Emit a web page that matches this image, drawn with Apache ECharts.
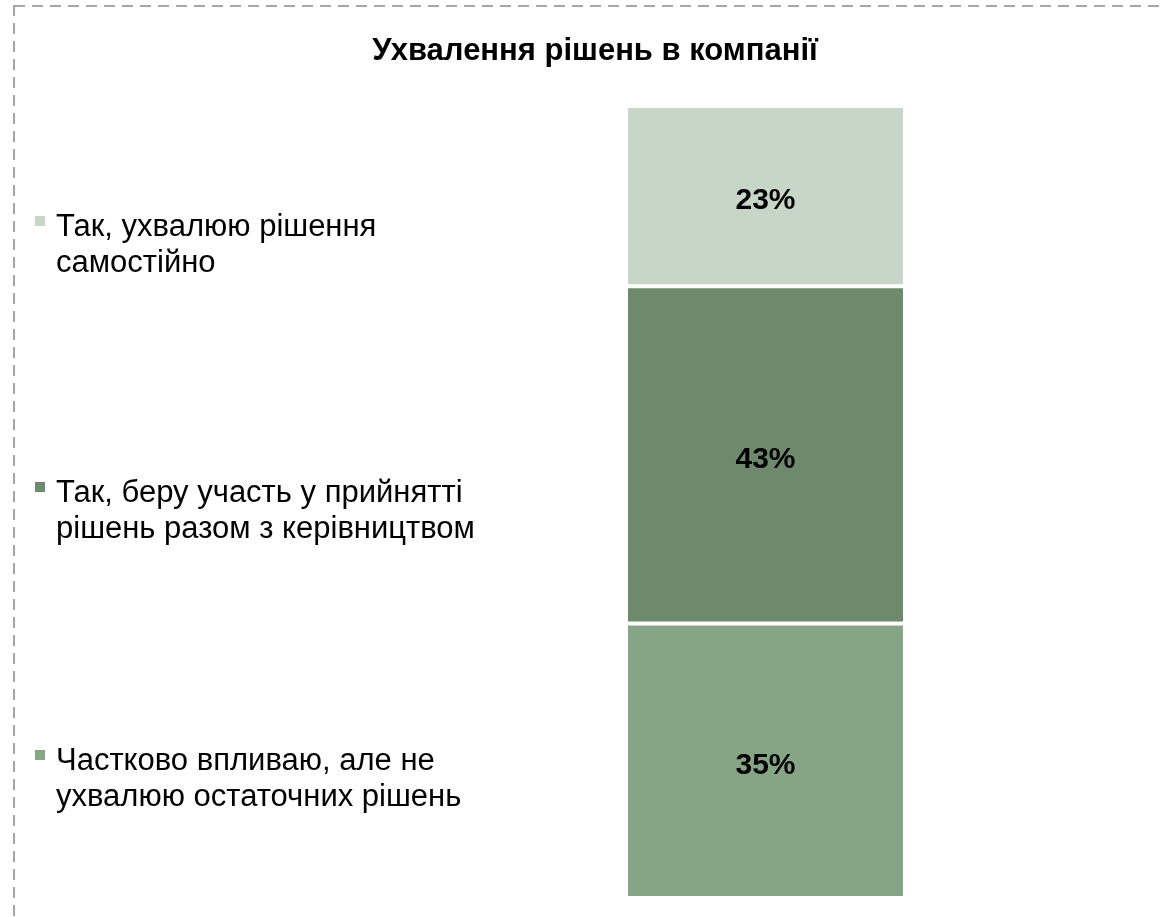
<!DOCTYPE html>
<html>
<head>
<meta charset="utf-8">
<script src="https://cdn.jsdelivr.net/npm/echarts@6/dist/echarts.min.js"></script>
<style>
    html, body { margin: 0; padding: 0; background: #fff; }
    #main { width: 1160px; height: 917px; }
</style>
</head>
<body>
<div id="main"></div>
<script>
// дані
let categories = ['Ухвалення рішень в компанії'];
let seriesNames = [
    'Частково впливаю, але не ухвалюю остаточних рішень',
    'Так, беру участь у прийнятті рішень разом з керівництвом',
    'Так, ухвалюю рішення самостійно'
];
let legendLines = [
    ['Частково впливаю, але не', 'ухвалюю остаточних рішень'],
    ['Так, беру участь у прийнятті', 'рішень разом з керівництвом'],
    ['Так, ухвалюю рішення', 'самостійно']
];
let values = [35, 43, 23];
let colors = ['#86a585', '#6e8a6c', '#c8d6c8'];
let legendTops = [754, 486, 220]; // центр маркера

let chartInit = {};
chartInit.build = (id) => {
    let myChart = echarts.init(document.getElementById(id));
    let fontFamily = '"Liberation Sans", Arial, sans-serif';

    let series = [];
    for (let i = 0; i < seriesNames.length; i++) {
        series.push({
            name: seriesNames[i],
            type: 'bar',
            stack: 'total',
            barWidth: '100%',
            data: [values[i]],
            itemStyle: {
                color: colors[i],
                borderColor: '#fff',
                borderWidth: 2
            },
            label: {
                show: true,
                position: 'inside',
                offset: [0, 5],
                formatter: '{c}%',
                color: '#000',
                fontSize: 30,
                fontWeight: 'bold',
                fontFamily: fontFamily
            }
        });
    }

    // окрема легенда для кожного пункту, маркер навпроти першого рядка
    let legends = [];
    for (let i = 0; i < seriesNames.length; i++) {
        let lines = legendLines[i];
        legends.push({
            data: [seriesNames[i]],
            orient: 'vertical',
            left: 33,
            top: legendTops[i] - 40,
            padding: 0,
            icon: 'rect',
            itemWidth: 12,
            itemHeight: 12,
            selectedMode: false,
            formatter: function () {
                return '{s| }\n{t|' + lines[0] + '}\n{t|' + lines[1] + '}';
            },
            textStyle: {
                color: '#000',
                fontFamily: fontFamily,
                rich: {
                    s: { fontSize: 10, lineHeight: 48, color: '#000' },
                    t: {
                        fontSize: 31,
                        lineHeight: 36,
                        color: '#000',
                        fontFamily: fontFamily,
                        padding: [0, 0, 0, 5]
                    }
                }
            }
        });
    }

    let option = {
        backgroundColor: '#fff',
        animation: false,
        title: {
            text: categories[0],
            left: 590,
            textAlign: 'center',
            top: 31,
            textStyle: {
                fontSize: 31,
                fontWeight: 'bold',
                color: '#000',
                fontFamily: fontFamily
            }
        },
        legend: legends,
        grid: {
            left: 626,
            width: 279,
            top: 106,
            bottom: 19
        },
        xAxis: {
            type: 'category',
            data: categories,
            show: false
        },
        yAxis: {
            type: 'value',
            min: 0,
            max: 101,
            show: false
        },
        graphic: [{
            type: 'rect',
            shape: { x: 14, y: 6, width: 1300, height: 1000 },
            style: {
                fill: 'none',
                stroke: '#a6a6a6',
                lineWidth: 2,
                lineDash: [11, 7]
            },
            silent: true
        }],
        series: series
    };
    myChart.setOption(option);
};
chartInit.build('main');
</script>
</body>
</html>
